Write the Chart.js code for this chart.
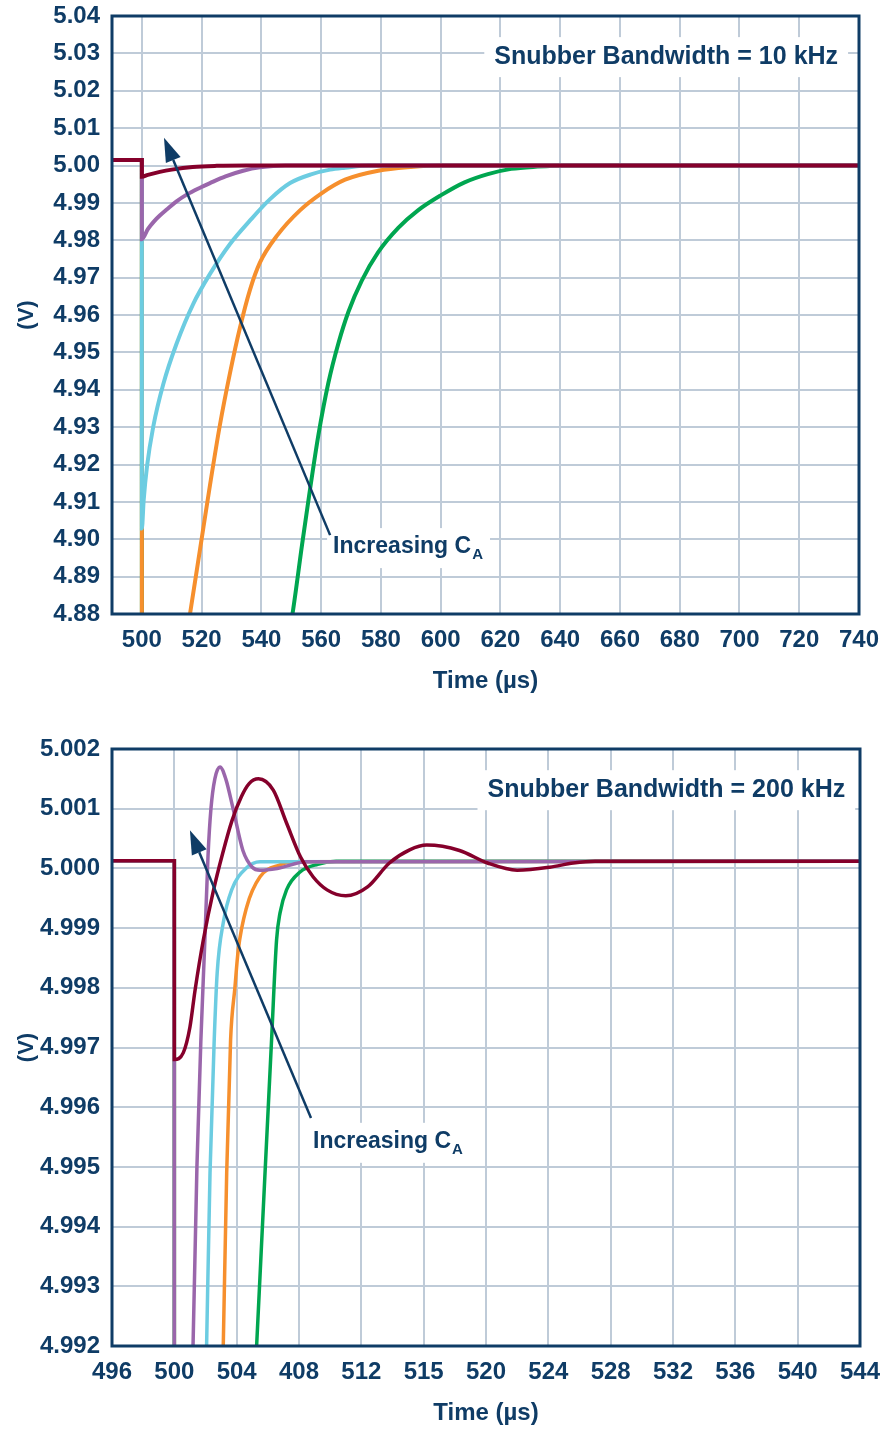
<!DOCTYPE html>
<html>
<head>
<meta charset="utf-8">
<script src="https://cdn.jsdelivr.net/npm/chart.js@4.4.1/dist/chart.umd.min.js"></script>
<style>
  html, body { margin: 0; padding: 0; background: #fff; }
  #wrap { position: relative; width: 886px; height: 1434px; }
  canvas { position: absolute; left: 0; }
  #topChart { top: 0; }
  #botChart { top: 730px; }
</style>
</head>
<body>
<div id="wrap">
  <canvas id="topChart" width="886" height="700"></canvas>
  <canvas id="botChart" width="886" height="704"></canvas>
</div>
<script>
const NAVY = '#0f3c66';
const GRID = '#bfcbd8';
const RED = '#85002b';
const PURPLE = '#9a66ab';
const CYAN = '#6ccce1';
const ORANGE = '#f68f2d';
const GREEN = '#00a650';
const FONT = '"Liberation Sans", Arial, sans-serif';

// ---- top chart: snubber bandwidth 10 kHz ----
const xTicksTop = [500, 520, 540, 560, 580, 600, 620, 640, 660, 680, 700, 720, 740];
const yTicksTop = [4.88, 4.89, 4.90, 4.91, 4.92, 4.93, 4.94, 4.95, 4.96, 4.97, 4.98, 4.99, 5.00, 5.01, 5.02, 5.03, 5.04];

const redTopT = [490, 500, 500, 502, 506, 510, 517, 525, 535, 740];
const redTopV = [5.0015, 5.0015, 4.9970, 4.9975, 4.9983, 4.9989, 4.9996, 4.9999, 5.0000, 5.0000];

const purpleTopT = [490, 500, 500, 502, 504, 506, 508.3, 511.6, 515, 519.3, 522.8, 528, 533.9, 539.5, 548, 740];
const purpleTopV = [5.0015, 5.0015, 4.9803, 4.9830, 4.9850, 4.9866, 4.9882, 4.9904, 4.9922, 4.9940, 4.9953, 4.9971, 4.9986, 4.9995, 5.0000, 5.0000];

const cyanTopT = [490, 500, 500, 500.6, 501.7, 503.8, 507.2, 511.6, 517.2, 522.8, 529.5, 536.2, 542.9, 549.6, 556.9, 563, 568, 576, 740];
const cyanTopV = [5.0015, 5.0015, 4.9029, 4.9105, 4.9194, 4.9301, 4.9416, 4.9523, 4.9630, 4.9710, 4.9790, 4.9853, 4.9910, 4.9953, 4.9977, 4.9989, 4.9994, 5.0000, 5.0000];

const orangeTopT = [490, 500, 500, 512, 516.1, 519.5, 522.8, 526.1, 529.5, 532.8, 536.2, 539.5, 545.5, 552.9, 560, 568, 579.1, 590, 600, 740];
const orangeTopV = [5.0015, 5.0015, 4.86, 4.86, 4.8800, 4.8975, 4.9145, 4.9305, 4.9445, 4.9565, 4.9668, 4.9740, 4.9815, 4.9880, 4.9925, 4.9962, 4.9986, 4.9996, 5.0000, 5.0000];

const greenTopT = [490, 500, 500, 546, 550.4, 553.6, 556.3, 559.1, 562.4, 565.8, 569.1, 573.6, 579.1, 585.8, 592.4, 600, 608, 615.8, 623.6, 632.4, 642, 740];
const greenTopV = [5.0015, 5.0015, 4.86, 4.86, 4.8800, 4.8985, 4.9135, 4.9280, 4.9418, 4.9525, 4.9608, 4.9692, 4.9768, 4.9833, 4.9880, 4.9920, 4.9955, 4.9977, 4.9991, 4.9997, 5.0000, 5.0000];

// ---- bottom chart: snubber bandwidth 200 kHz ----
const xTicksBot = [496, 500, 504, 508, 512, 516, 520, 524, 528, 532, 536, 540, 544];
const xLabelsBot = ['496', '500', '504', '408', '512', '515', '520', '524', '528', '532', '536', '540', '544'];
const yTicksBot = [4.992, 4.993, 4.994, 4.995, 4.996, 4.997, 4.998, 4.999, 5.000, 5.001, 5.002];

const redBotT = [496, 500, 500, 500.57, 501, 501.33, 501.86, 502.5, 503.1, 503.7, 504.3, 504.8, 505.4, 506.35, 507.2, 508.1, 508.9, 509.8, 511, 512.4, 513.8, 515.1, 516.2, 518.3, 520.1, 522, 524.1, 525.6, 527, 544];
const redBotV = [5.00013, 5.00013, 4.9968, 4.99691, 4.99734, 4.99796, 4.9988, 4.99962, 5.00025, 5.0008, 5.0012, 5.00142, 5.0015, 5.00131, 5.00076, 5.00019, 4.99986, 4.99964, 4.99954, 4.99969, 5.00009, 5.00031, 5.00039, 5.0003, 5.00009, 4.99997, 5.00002, 5.00009, 5.00012, 5.00012];

const purpleBotT = [496, 500, 500, 501.08, 501.2, 501.45, 501.7, 501.96, 502.16, 502.35, 502.6, 502.93, 503.3, 503.77, 504.4, 505, 505.5, 506.6, 508.5, 544];
const purpleBotV = [5.00013, 5.00013, 4.990, 4.990, 4.992, 4.9950, 4.9971, 4.9988, 5.0002, 5.0010, 5.0015, 5.0017, 5.0015, 5.0010, 5.0003, 5.00002, 4.99997, 5.0000, 5.00011, 5.00012];

const cyanBotT = [496, 500, 500, 501.92, 502.07, 502.29, 502.56, 502.75, 503.14, 503.68, 504.64, 505.5, 544];
const cyanBotV = [5.00013, 5.00013, 4.990, 4.990, 4.992, 4.9949, 4.99713, 4.99825, 4.99909, 4.99964, 5.00001, 5.00011, 5.00012];

const orangeBotT = [496, 500, 500, 502.98, 503.14, 503.36, 503.61, 503.89, 504.1, 504.64, 505.5, 506.78, 507.6, 544];
const orangeBotV = [5.00013, 5.00013, 4.990, 4.990, 4.992, 4.9949, 4.99713, 4.99801, 4.99863, 4.99935, 4.99986, 5.00006, 5.00011, 5.00012];

const greenBotT = [496, 500, 500, 504.9, 505.28, 505.82, 506.24, 506.56, 506.78, 507.2, 508.07, 509.2, 510.4, 544];
const greenBotV = [5.00013, 5.00013, 4.990, 4.990, 4.992, 4.9949, 4.99713, 4.9988, 4.99925, 4.99964, 4.99994, 5.00007, 5.00012, 5.00012];

function series(t, v, color) {
    return { t: t, v: v, color: color };
}

// frame, arrow and text boxes, placed in data units
function notes(cfg) {
    return {
        id: 'notes',
        afterDraw(chart) {
            const { ctx, chartArea: a, scales: { x, y } } = chart;
            ctx.save();

            // SNUBBER LABEL
            ctx.font = 'bold 25px ' + FONT;
            const lw = ctx.measureText(cfg.label).width;
            const lx = x.getPixelForValue(cfg.labelAt[0]);
            const ly = y.getPixelForValue(cfg.labelAt[1]);
            ctx.fillStyle = '#fff';
            ctx.fillRect(lx - lw - 10, ly - 20, lw + 20, 40);

            // INCREASING C_A LABEL
            const tx = x.getPixelForValue(cfg.textAt[0]);
            const ty = y.getPixelForValue(cfg.textAt[1]);
            ctx.font = 'bold 23px ' + FONT;
            const w1 = ctx.measureText('Increasing C').width;
            ctx.font = 'bold 15px ' + FONT;
            const w2 = ctx.measureText('A').width;
            ctx.fillRect(tx - 6, ty - 19, w1 + w2 + 14, 40);

            // ARROW
            const x0 = x.getPixelForValue(cfg.arrowFrom[0]), y0 = y.getPixelForValue(cfg.arrowFrom[1]);
            const x1 = x.getPixelForValue(cfg.arrowTo[0]), y1 = y.getPixelForValue(cfg.arrowTo[1]);
            const ang = Math.atan2(y1 - y0, x1 - x0);
            const hl = 24, hw = 8;
            const bx = x1 - hl * Math.cos(ang), by = y1 - hl * Math.sin(ang);
            ctx.strokeStyle = NAVY;
            ctx.lineWidth = 2.5;
            ctx.beginPath();
            ctx.moveTo(x0, y0);
            ctx.lineTo(bx, by);
            ctx.stroke();
            ctx.fillStyle = NAVY;
            ctx.beginPath();
            ctx.moveTo(x1, y1);
            ctx.lineTo(bx + hw * Math.sin(ang), by - hw * Math.cos(ang));
            ctx.lineTo(bx - hw * Math.sin(ang), by + hw * Math.cos(ang));
            ctx.closePath();
            ctx.fill();

            // TEXTS
            ctx.textBaseline = 'middle';
            ctx.textAlign = 'right';
            ctx.font = 'bold 25px ' + FONT;
            ctx.fillText(cfg.label, lx, ly);
            ctx.textAlign = 'left';
            ctx.font = 'bold 23px ' + FONT;
            ctx.fillText('Increasing C', tx, ty);
            ctx.font = 'bold 15px ' + FONT;
            ctx.fillText('A', tx + w1 + 1, ty + 8);

            // FRAME
            ctx.strokeStyle = NAVY;
            ctx.lineWidth = 3;
            ctx.strokeRect(a.left, a.top, a.right - a.left, a.bottom - a.top);
            ctx.restore();
        }
    };
}

function makeChart(id, o) {
    return new Chart(document.getElementById(id), {
        type: 'line',
        data: {
            datasets: o.series.map(s => ({
                data: s.t.map((t, i) => ({ x: t, y: s.v[i] })),
                borderColor: s.color,
                borderWidth: o.lineWidth,
                pointRadius: 0,
                fill: false,
                cubicInterpolationMode: 'monotone'
            }))
        },
        options: {
            responsive: false,
            animation: false,
            devicePixelRatio: 1,
            layout: { padding: o.padding },
            plugins: { legend: { display: false }, tooltip: { enabled: false } },
            scales: {
                x: {
                    type: 'linear',
                    min: o.xMin,
                    max: o.xMax,
                    afterBuildTicks: s => { s.ticks = o.xTicks.map(v => ({ value: v })); },
                    afterFit: s => { s.height = o.xAxisH; s.paddingLeft = 0; s.paddingRight = 0; },
                    ticks: {
                        autoSkip: false, maxRotation: 0, padding: o.xTickPad, color: NAVY,
                        font: { family: FONT, size: 24, weight: 'bold' },
                        callback: (v, i) => o.xLabels[i]
                    },
                    grid: { color: GRID, lineWidth: 2, drawTicks: false },
                    border: { display: false },
                    title: {
                        display: true, text: 'Time (µs)', color: NAVY,
                        font: { family: FONT, size: 24, weight: 'bold' },
                        padding: { top: 0, bottom: o.xTitlePad }
                    }
                },
                y: {
                    type: 'linear',
                    min: o.yMin,
                    max: o.yMax,
                    afterBuildTicks: s => { s.ticks = o.yTicks.map(v => ({ value: v })); },
                    afterFit: s => { s.width = 112; s.paddingTop = 0; s.paddingBottom = 0; },
                    ticks: {
                        padding: 12, color: NAVY,
                        font: { family: FONT, size: 24, weight: 'bold' },
                        callback: v => v.toFixed(o.yDec)
                    },
                    grid: { color: GRID, lineWidth: 2, drawTicks: false },
                    border: { display: false },
                    title: {
                        display: true, text: '(V)', color: NAVY,
                        font: { family: FONT, size: 22, weight: 'bold' },
                        padding: { top: 14, bottom: 0 }
                    }
                }
            }
        },
        plugins: [notes(o.notes)]
    });
}

makeChart('topChart', {
    series: [
        series(redTopT, redTopV, RED),
        series(purpleTopT, purpleTopV, PURPLE),
        series(cyanTopT, cyanTopV, CYAN),
        series(orangeTopT, orangeTopV, ORANGE),
        series(greenTopT, greenTopV, GREEN)
    ],
    lineWidth: 4,
    padding: { top: 16, right: 27, left: 0, bottom: 0 },
    xMin: 490, xMax: 740, xTicks: xTicksTop, xLabels: xTicksTop.map(String),
    yMin: 4.88, yMax: 5.04, yTicks: yTicksTop, yDec: 2,
    xAxisH: 86, xTickPad: 12, xTitlePad: 4,
    notes: {
        label: 'Snubber Bandwidth = 10 kHz', labelAt: [733, 5.029],
        arrowFrom: [563, 4.9011], arrowTo: [507.4, 5.0074],
        textAt: [564, 4.8979]
    }
});

makeChart('botChart', {
    series: [
        series(redBotT, redBotV, RED),
        series(purpleBotT, purpleBotV, PURPLE),
        series(cyanBotT, cyanBotV, CYAN),
        series(orangeBotT, orangeBotV, ORANGE),
        series(greenBotT, greenBotV, GREEN)
    ],
    lineWidth: 3.5,
    padding: { top: 19, right: 26, left: 0, bottom: 0 },
    xMin: 496, xMax: 544, xTicks: xTicksBot, xLabels: xLabelsBot,
    yMin: 4.992, yMax: 5.002, yTicks: yTicksBot, yDec: 3,
    xAxisH: 88, xTickPad: 12, xTitlePad: 6,
    notes: {
        label: 'Snubber Bandwidth = 200 kHz', labelAt: [543.05, 5.00131],
        arrowFrom: [508.77, 4.99582], arrowTo: [501.0, 5.00064],
        textAt: [508.9, 4.99542]
    }
});
</script>
</body>
</html>
